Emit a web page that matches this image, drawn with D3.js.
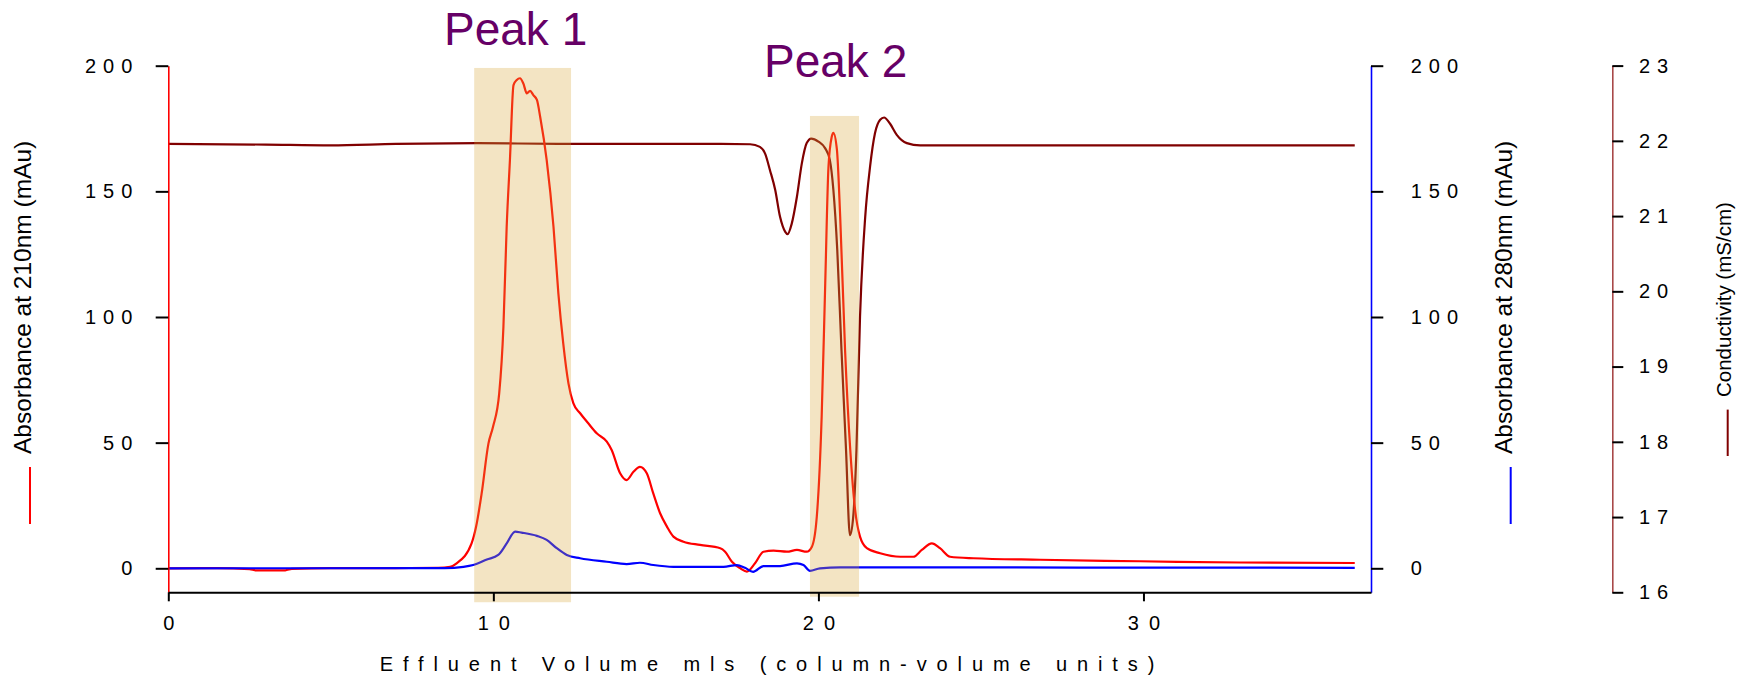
<!DOCTYPE html>
<html><head><meta charset="utf-8">
<script src="https://cdn.jsdelivr.net/npm/d3@7"></script>
<style>
body{margin:0;background:#fff}
svg{display:block}
text{font-family:"Liberation Sans",Arial,sans-serif}
</style>
</head><body>
<svg id="c" width="1745" height="680"></svg>
<script>
// ---------- data ----------
const vol210 = [0,1.5,2.5,2.7,3.6,3.8,5,7,8.3,8.67,8.87,9.33,9.47,9.64,9.85,9.99,10.18,10.31,10.41,10.51,10.62,10.72,10.82,10.92,11.03,11.13,11.23,11.34,11.44,11.64,11.85,12.0,12.15,12.31,12.46,12.67,12.92,13.18,13.49,13.64,13.90,14.10,14.31,14.51,14.72,14.92,15.13,15.34,15.54,15.85,16.36,16.98,17.13,17.34,17.6,17.8,18.05,18.31,18.62,19.03,19.34,19.64,19.80,19.95,20.10,20.21,20.31,20.41,20.46,20.57,20.67,20.82,20.98,21.13,21.28,21.49,21.90,22.52,22.92,23.18,23.49,23.74,24.05,24.77,26.82,29.9,32.97,36.5];
const abs210 = [0,0.1,-0.3,-0.8,-0.8,-0.2,0.1,0.1,0.2,0.6,2.0,9.9,16.6,29.8,49.7,56.3,69.6,96.1,135.9,162.5,192.3,194.3,195,193,189,190,188.3,186.4,179.7,162.5,135.9,109.4,89.5,73.6,65.7,61.7,57.7,53.7,50.4,47.1,37.8,35.1,38.4,40.4,37.8,29.8,21.9,16.6,12.6,10.6,9.3,8.0,6.6,2.6,0,-1.3,2.0,6.6,7.0,6.6,7.3,6.6,8.6,20.5,60.3,113.4,159.8,171.7,173.3,166.5,139.9,86.9,47.1,23.2,12.6,8.0,6.0,4.6,4.6,7.3,9.9,8.0,4.6,4.0,3.4,2.8,2.3,2.1];

const vol280 = [0,8.5,9.08,9.38,9.80,10.15,10.41,10.67,10.87,11.34,11.64,11.95,12.26,12.67,13.49,14.10,14.51,14.92,15.54,17.08,17.49,17.74,17.99,18.31,18.82,19.34,19.54,19.74,20.05,20.67,28,36.5];
const abs280 = [0,0.1,0.6,1.3,3.5,5.3,9.9,14.6,14.2,12.9,11.3,8.0,5.3,4.0,2.6,1.7,2.2,1.3,0.6,0.6,1.3,0.2,-1.4,0.9,0.9,2.0,1.3,-1.0,0,0.4,0.3,0.2];

const volCond = [0,3.0,5.0,7.0,9.5,12.0,17.0,17.9,18.2,18.36,18.51,18.67,18.82,18.98,19.05,19.18,19.34,19.49,19.64,19.78,20.0,20.21,20.35,20.46,20.58,20.71,20.85,20.97,21.07,21.17,21.28,21.44,21.59,21.74,21.90,22.02,22.2,22.41,22.72,23.13,36.5];
const condVals = [21.96,21.95,21.94,21.96,21.97,21.96,21.96,21.955,21.92,21.83,21.61,21.35,20.99,20.79,20.76,20.90,21.26,21.70,21.97,22.03,21.99,21.90,21.75,21.35,20.55,19.22,17.89,16.76,17.0,17.89,19.66,20.99,21.66,22.10,22.28,22.31,22.23,22.08,21.97,21.94,21.94];

const peakNames  = ["Peak 1","Peak 2"];
const peakStart  = [9.41,19.74];
const peakEnd    = [12.39,21.25];
const peakTop    = [199.1,180.0];
const peakBottom = [-13.5,-11.3];

const xTicks    = [0,10,20,30];
const absTicks  = [0,50,100,150,200];
const condTicks = [16,17,18,19,20,21,22,23];

// ---------- scales ----------
const svg = d3.select("#c");
const x  = d3.scaleLinear().domain([0,37]).range([168.3,1371]);
const yA = d3.scaleLinear().domain([-9.55,200]).range([592.3,65.7]);
const yB = yA.copy();
const yC = d3.scaleLinear().domain([16,23]).range([592.3,65.6]);

function pathOf(xs, ys, ys_scale){
  const pts = xs.map((v,i)=>[v,ys[i]]);
  return d3.line().x(d=>x(d[0])).y(d=>ys_scale(d[1])).curve(d3.curveMonotoneX)(pts);
}

// ---------- lines ----------
svg.append("path").attr("d",pathOf(volCond,condVals,yC))
  .attr("fill","none").attr("stroke","#800000").attr("stroke-width",2.2).attr("stroke-linejoin","round");
svg.append("path").attr("d",pathOf(vol210,abs210,yA))
  .attr("fill","none").attr("stroke","#ff0000").attr("stroke-width",2.2).attr("stroke-linejoin","round");
svg.append("path").attr("d",pathOf(vol280,abs280,yB))
  .attr("fill","none").attr("stroke","#0000ff").attr("stroke-width",2.2).attr("stroke-linejoin","round");

// ---------- shaded peaks ----------
svg.selectAll("rect.peak").data(peakNames).join("rect").attr("class","peak")
  .attr("x",(d,i)=>x(peakStart[i]))
  .attr("width",(d,i)=>x(peakEnd[i])-x(peakStart[i]))
  .attr("y",(d,i)=>yA(peakTop[i]))
  .attr("height",(d,i)=>yA(peakBottom[i])-yA(peakTop[i]))
  .attr("fill","rgb(215,165,55)").attr("opacity",0.3);

// ---------- axes ----------
function styleAxis(g, domainColor, domainWidth){
  g.attr("font-family",null).attr("font-size",null);
  g.select(".domain").attr("stroke",domainColor).attr("stroke-width",domainWidth);
  g.selectAll(".tick line").attr("stroke","#000").attr("stroke-width",2);
  g.selectAll(".tick text").attr("fill","#000").attr("font-size",20);
}

const gL = svg.append("g").attr("transform",`translate(${x.range()[0]},0)`)
  .call(d3.axisLeft(yA).tickValues(absTicks).tickSize(12.6).tickSizeOuter(0).tickFormat(d3.format("d")));
styleAxis(gL,"#ff0000",1.6);
gL.selectAll(".tick text").attr("x",-29).attr("letter-spacing","7px");

const gB = svg.append("g").attr("transform",`translate(${x.range()[1]},0)`)
  .call(d3.axisRight(yB).tickValues(absTicks).tickSize(12.3).tickSizeOuter(0).tickFormat(d3.format("d")));
styleAxis(gB,"#0000ff",1.6);
gB.selectAll(".tick text").attr("x",39.7).attr("letter-spacing","7px");

const gC = svg.append("g").attr("transform","translate(1612.3,0)")
  .call(d3.axisRight(yC).tickValues(condTicks).tickSize(11).tickSizeOuter(0).tickFormat(d3.format("d")));
styleAxis(gC,"#a84848",1.6);
gC.selectAll(".tick text").attr("x",26.7).attr("letter-spacing","7px");

const gX = svg.append("g").attr("transform",`translate(0,${yA.range()[0]})`)
  .call(d3.axisBottom(x).tickValues(xTicks).tickSize(9).tickSizeOuter(0).tickFormat(d3.format("d")));
styleAxis(gX,"#000",2);
gX.selectAll(".tick text").attr("y",24).attr("dx",5).attr("letter-spacing","10px");

// ---------- titles ----------
svg.append("text").attr("x",772).attr("y",671).attr("text-anchor","middle")
  .attr("font-size",20).attr("letter-spacing","9.9px").attr("fill","#000")
  .text("Effluent Volume mls (column-volume units)");

svg.append("text").attr("transform","translate(31,454) rotate(-90)")
  .attr("font-size",24.5).attr("fill","#000").text("Absorbance at 210nm (mAu)");
svg.append("line").attr("x1",30).attr("x2",30).attr("y1",467).attr("y2",524)
  .attr("stroke","#ff0000").attr("stroke-width",2);

svg.append("text").attr("transform","translate(1512,454) rotate(-90)")
  .attr("font-size",24.5).attr("fill","#000").text("Absorbance at 280nm (mAu)");
svg.append("line").attr("x1",1510.7).attr("x2",1510.7).attr("y1",467).attr("y2",524)
  .attr("stroke","#0000ff").attr("stroke-width",2);

svg.append("text").attr("transform","translate(1731,397) rotate(-90)")
  .attr("font-size",20.5).attr("fill","#000").text("Conductivity (mS/cm)");
svg.append("line").attr("x1",1727.7).attr("x2",1727.7).attr("y1",409.6).attr("y2",456)
  .attr("stroke","#800000").attr("stroke-width",2);

// ---------- peak labels ----------
const peakLabelPos = [[444,45],[764,77]];
svg.selectAll("text.peaklbl").data(peakNames).join("text").attr("class","peaklbl")
  .attr("x",(d,i)=>peakLabelPos[i][0]).attr("y",(d,i)=>peakLabelPos[i][1])
  .attr("font-size",46).attr("fill","#660066").text(d=>d);
</script>
</body></html>
